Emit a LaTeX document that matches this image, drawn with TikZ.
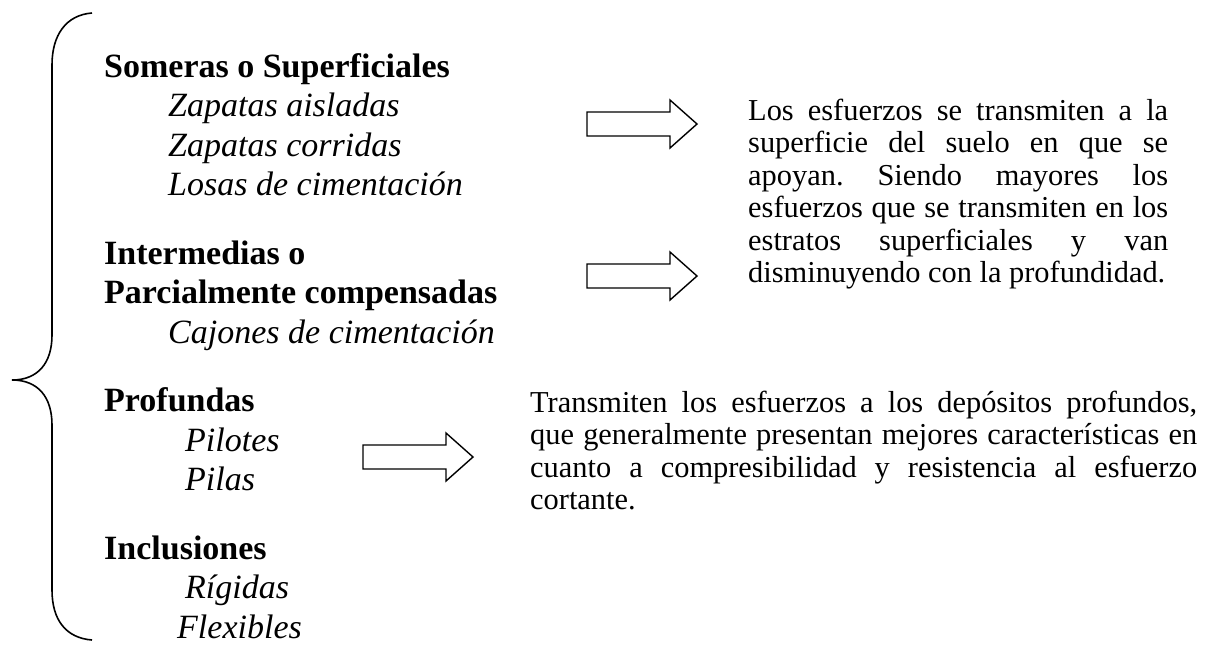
\documentclass[tikz,border=0pt]{standalone}
\usepackage{fontspec}
\setmainfont{Liberation Serif}
\usetikzlibrary{positioning}
\frenchspacing

\tikzset{
  cat/.style={font=\bfseries\fontsize{34}{39.5}\selectfont, inner sep=0pt},
  tipo/.style={font=\itshape\fontsize{34}{39.5}\selectfont, inner sep=0pt},
  nota/.style={font=\fontsize{30.4}{32.5}\selectfont, inner sep=0pt, align=justify, anchor=base west},
  flecha/.style={draw, line width=1.4pt, line join=miter},
  llave/.style={draw, line width=1.6pt}
}

\begin{document}
\begin{tikzpicture}[x=1pt,y=-1pt]
\useasboundingbox (0,0) rectangle (1226,646);

% llave
\draw[llave] (92,13) .. controls (66,15) and (52,35) .. (52,65) -- (52,335)
  .. controls (52,363) and (38,380) .. (12,380)
  .. controls (38,380) and (52,397) .. (52,425) -- (52,590)
  .. controls (52,620) and (66,638) .. (92,640);

% tipos de cimentacion
\node[cat, anchor=base west] (som) at (104,77) {Someras o Superficiales};
\node[tipo, below right=39.5pt and 64pt of som.base west, anchor=base west] (zap1) {Zapatas aisladas};
\node[tipo, below=39.5pt of zap1.base west, anchor=base west] (zap2) {Zapatas corridas};
\node[tipo, below=39.5pt of zap2.base west, anchor=base west] (losa) {Losas de cimentación};

\node[cat, below left=68.5pt and 64pt of losa.base west, anchor=base west] (inter) {Intermedias o};
\node[cat, below=39.5pt of inter.base west, anchor=base west] (parc) {Parcialmente compensadas};
\node[tipo, below right=39.5pt and 64pt of parc.base west, anchor=base west] (caj) {Cajones de cimentación};

\node[cat, below left=68.5pt and 64pt of caj.base west, anchor=base west] (prof) {Profundas};
\node[tipo, below right=39.5pt and 81pt of prof.base west, anchor=base west] (pilo) {Pilotes};
\node[tipo, below=39.5pt of pilo.base west, anchor=base west] (pila) {Pilas};

\node[cat, below left=68.5pt and 81pt of pila.base west, anchor=base west] (incl) {Inclusiones};
\node[tipo, below right=39.5pt and 81pt of incl.base west, anchor=base west] (rig) {Rígidas};
\node[tipo, below left=39.5pt and 8pt of rig.base west, anchor=base west] (flex) {Flexibles};

% flechas
\foreach \x/\y in {587/124, 587/276, 363/457}
  \draw[flecha] (\x,\y-12) -- ++(83,0) -- ++(0,-12) -- ++(27,24) -- ++(-27,24)
    -- ++(0,-12) -- ++(-83,0) -- cycle;

% descripciones
\node[nota, text width=420pt] (des1) at (748,120) {Los esfuerzos se transmiten a la\linebreak
  superficie del suelo en que se\linebreak apoyan. Siendo mayores los\linebreak
  esfuerzos que se transmiten en los\linebreak estratos superficiales y van\linebreak
  disminuyendo con la profundidad.};
\node[nota, text width=667pt] (des2) at (530,412) {Transmiten los esfuerzos a los depósitos profundos,\linebreak
  que generalmente presentan mejores características en\linebreak
  cuanto a compresibilidad y resistencia al esfuerzo\linebreak cortante.};

\end{tikzpicture}
\end{document}
